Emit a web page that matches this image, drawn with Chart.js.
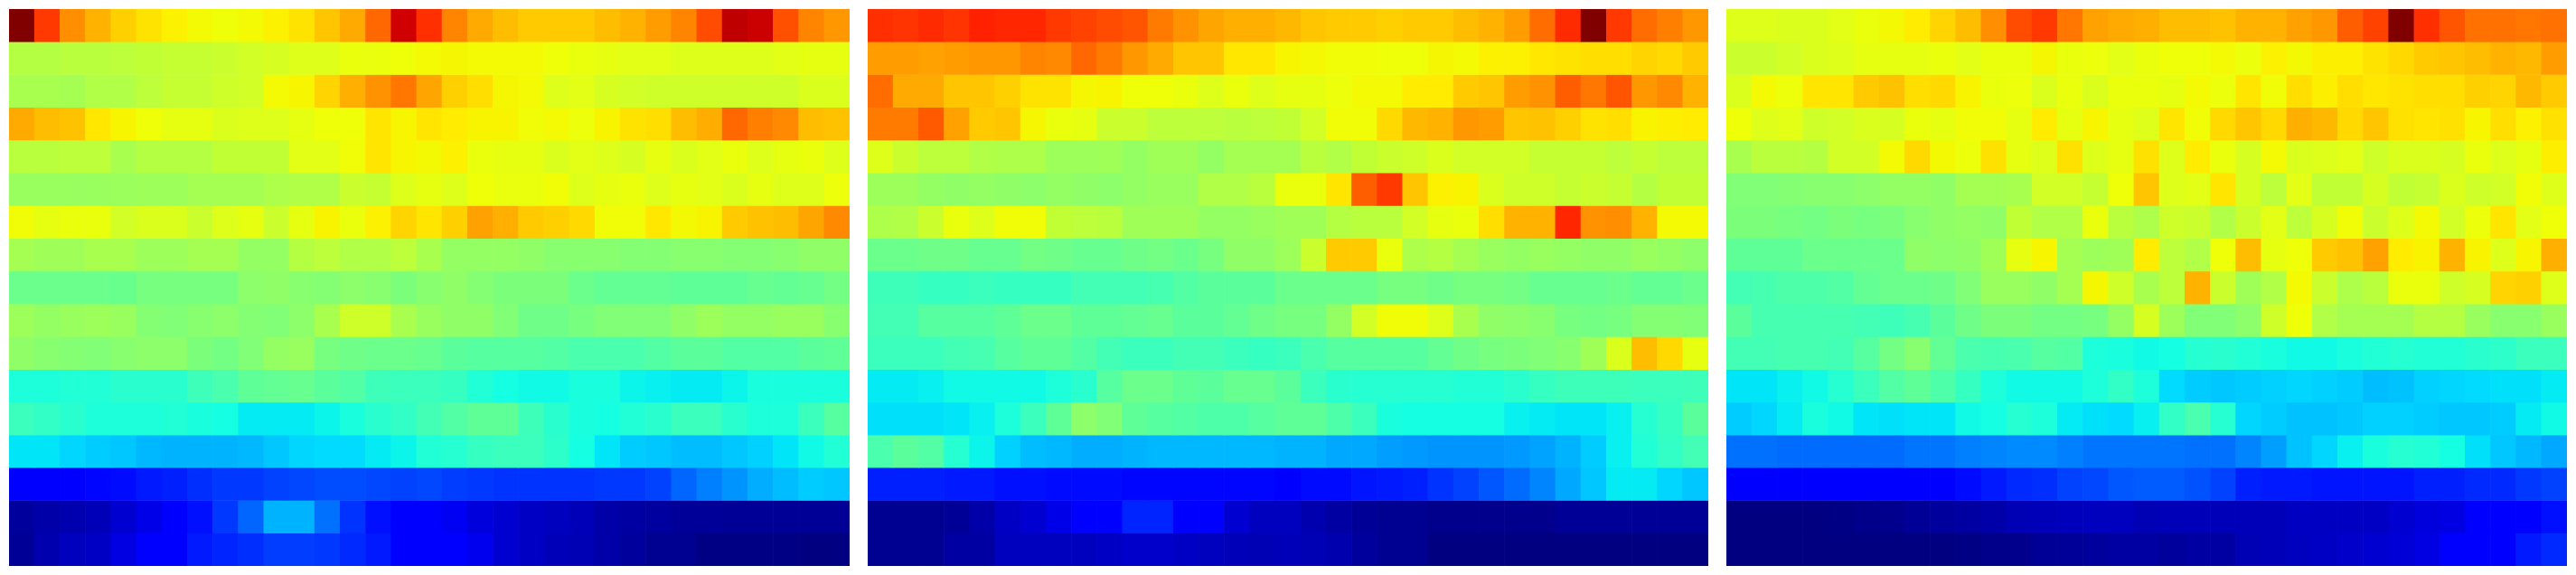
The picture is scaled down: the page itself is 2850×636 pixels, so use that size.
<!DOCTYPE html>
<html>
<head>
<meta charset="utf-8">
<title>Heatmap panels</title>
<script src="https://cdn.jsdelivr.net/npm/chart.js@4"></script>
<style>
html,body{margin:0;padding:0;background:#fff;width:2850px;height:636px;overflow:hidden}
.p{position:absolute;top:10px;width:930px;height:616px}
canvas{display:block}
</style>
</head>
<body>
<div class="p" style="left:10px"><canvas id="a"></canvas></div>
<div class="p" style="left:960px"><canvas id="b"></canvas></div>
<div class="p" style="left:1910px"><canvas id="c"></canvas></div>
<script>
const panelA = [
[1,.85,.76,.72,.69,.67,.655,.645,.64,.645,.655,.67,.70,.73,.80,.93,.86,.77,.73,.71,.695,.695,.695,.71,.72,.745,.77,.83,.945,.935,.825,.77,.75],
[.57,.57,.575,.575,.58,.585,.59,.59,.595,.605,.61,.62,.62,.635,.635,.64,.645,.648,.645,.645,.645,.64,.635,.63,.625,.625,.62,.62,.62,.62,.625,.63,.63],
[.555,.555,.55,.565,.565,.58,.59,.59,.60,.605,.645,.65,.685,.725,.755,.785,.735,.69,.675,.648,.645,.62,.625,.61,.605,.60,.60,.60,.60,.60,.60,.615,.615],
[.73,.71,.705,.665,.65,.64,.63,.63,.615,.62,.62,.63,.64,.64,.668,.65,.668,.66,.652,.652,.642,.645,.638,.652,.67,.675,.71,.727,.80,.775,.765,.71,.705],
[.575,.575,.58,.58,.555,.57,.57,.57,.585,.585,.585,.625,.625,.642,.668,.65,.646,.655,.635,.63,.63,.615,.625,.62,.61,.63,.615,.625,.635,.62,.63,.635,.62],
[.535,.535,.535,.535,.538,.54,.54,.55,.55,.55,.56,.565,.565,.595,.59,.62,.63,.62,.64,.633,.635,.642,.62,.63,.635,.62,.63,.625,.615,.63,.62,.62,.638],
[.642,.63,.635,.635,.605,.615,.615,.595,.62,.63,.595,.63,.652,.635,.655,.685,.668,.69,.74,.725,.695,.69,.68,.642,.642,.665,.646,.652,.695,.705,.71,.735,.765],
[.55,.543,.543,.555,.555,.54,.54,.55,.55,.53,.53,.57,.58,.565,.565,.58,.555,.53,.53,.53,.525,.515,.515,.515,.51,.51,.515,.515,.51,.51,.515,.525,.525],
[.48,.48,.48,.48,.478,.495,.495,.495,.495,.52,.525,.515,.51,.52,.515,.50,.515,.525,.51,.50,.50,.50,.48,.47,.47,.47,.465,.465,.465,.475,.47,.475,.49],
[.54,.53,.535,.54,.535,.51,.505,.515,.52,.51,.505,.52,.555,.60,.60,.555,.535,.525,.525,.505,.485,.485,.495,.505,.505,.505,.525,.54,.53,.53,.535,.535,.515],
[.525,.515,.51,.505,.515,.52,.52,.50,.49,.505,.53,.535,.495,.485,.48,.48,.475,.46,.455,.455,.455,.45,.44,.44,.44,.45,.46,.46,.45,.45,.45,.46,.465],
[.385,.385,.39,.39,.40,.40,.40,.425,.44,.465,.47,.475,.46,.45,.425,.42,.42,.415,.39,.375,.37,.37,.38,.38,.365,.36,.355,.355,.365,.38,.38,.38,.38],
[.42,.41,.40,.385,.385,.385,.39,.38,.375,.355,.355,.355,.365,.38,.40,.41,.43,.45,.465,.465,.425,.40,.38,.375,.39,.40,.42,.42,.40,.385,.385,.42,.455],
[.35,.35,.335,.325,.32,.305,.30,.30,.30,.305,.32,.335,.34,.34,.355,.365,.39,.395,.415,.42,.42,.405,.375,.35,.325,.32,.31,.31,.32,.33,.35,.37,.39],
[.11,.11,.115,.13,.135,.15,.155,.17,.18,.18,.19,.195,.20,.20,.195,.19,.195,.185,.18,.175,.175,.175,.175,.18,.18,.19,.225,.25,.27,.295,.31,.325,.32],
[.025,.035,.04,.05,.07,.09,.11,.14,.18,.225,.30,.30,.235,.175,.14,.11,.11,.10,.08,.07,.06,.055,.05,.035,.03,.027,.022,.022,.02,.02,.02,.02,.02],
[.02,.04,.055,.06,.085,.11,.11,.15,.16,.17,.185,.185,.18,.165,.15,.125,.11,.11,.095,.07,.06,.05,.045,.035,.025,.015,.015,.005,.005,.005,.005,0,0]
];
const panelB = [
[.86,.855,.865,.855,.875,.87,.87,.85,.84,.83,.82,.78,.755,.735,.725,.725,.715,.70,.695,.695,.69,.695,.695,.71,.72,.745,.795,.865,1,.85,.795,.775,.75],
[.745,.745,.74,.745,.75,.75,.77,.765,.80,.78,.75,.73,.70,.70,.665,.665,.65,.647,.642,.642,.64,.64,.648,.645,.655,.655,.665,.67,.675,.675,.685,.68,.695],
[.795,.73,.73,.70,.70,.69,.67,.67,.648,.652,.64,.64,.635,.62,.635,.62,.63,.63,.638,.645,.645,.66,.66,.695,.70,.745,.755,.81,.785,.82,.75,.765,.72],
[.78,.78,.815,.74,.695,.70,.648,.635,.63,.595,.595,.58,.58,.58,.575,.58,.585,.605,.642,.642,.68,.715,.72,.75,.745,.70,.705,.69,.67,.675,.652,.656,.66],
[.62,.595,.58,.58,.565,.56,.56,.54,.54,.545,.53,.545,.545,.53,.55,.55,.55,.575,.565,.585,.595,.60,.615,.605,.605,.605,.59,.59,.59,.58,.59,.58,.58],
[.54,.54,.53,.525,.53,.525,.52,.53,.525,.52,.53,.535,.535,.565,.565,.575,.635,.635,.668,.81,.85,.70,.655,.652,.615,.60,.60,.59,.595,.59,.57,.585,.585],
[.56,.565,.595,.635,.62,.642,.642,.585,.58,.575,.545,.545,.545,.53,.53,.535,.545,.545,.57,.575,.575,.605,.63,.635,.675,.72,.72,.87,.755,.76,.72,.645,.645],
[.48,.48,.485,.485,.475,.475,.49,.485,.475,.475,.485,.49,.48,.495,.525,.525,.54,.595,.695,.695,.635,.56,.57,.55,.535,.53,.535,.53,.525,.525,.535,.53,.52],
[.425,.425,.415,.415,.42,.415,.415,.415,.43,.43,.43,.435,.45,.46,.46,.46,.48,.48,.48,.48,.495,.495,.485,.495,.495,.49,.475,.475,.475,.48,.47,.47,.48],
[.43,.43,.455,.455,.455,.465,.48,.48,.465,.465,.47,.475,.46,.46,.47,.485,.495,.495,.53,.605,.642,.642,.62,.555,.525,.52,.515,.495,.49,.495,.51,.51,.505],
[.42,.42,.42,.43,.435,.455,.465,.465,.45,.43,.42,.42,.43,.43,.42,.415,.42,.44,.455,.455,.455,.455,.47,.485,.495,.50,.505,.515,.545,.615,.71,.68,.63],
[.355,.355,.36,.37,.37,.37,.37,.385,.40,.455,.48,.48,.465,.46,.475,.475,.46,.42,.40,.395,.395,.395,.395,.39,.39,.40,.415,.425,.425,.425,.42,.42,.425],
[.345,.345,.345,.35,.36,.385,.42,.465,.52,.505,.465,.455,.45,.445,.445,.455,.465,.465,.445,.42,.38,.375,.375,.375,.375,.36,.355,.35,.35,.36,.395,.415,.46],
[.44,.46,.45,.395,.365,.33,.31,.305,.295,.295,.30,.305,.305,.305,.305,.305,.30,.30,.29,.29,.28,.275,.27,.27,.27,.275,.285,.30,.325,.36,.39,.41,.43],
[.155,.155,.155,.15,.15,.14,.14,.135,.135,.135,.13,.13,.13,.13,.13,.13,.125,.135,.135,.145,.15,.155,.175,.19,.21,.23,.255,.29,.32,.355,.355,.335,.32],
[.015,.015,.015,.02,.035,.06,.07,.09,.11,.125,.16,.16,.125,.11,.07,.055,.055,.04,.03,.02,.015,.015,.012,.012,.012,.012,.012,.02,.02,.02,.02,.02,.02],
[.015,.015,.015,.03,.03,.055,.055,.055,.055,.06,.065,.065,.06,.055,.05,.045,.05,.045,.04,.025,.015,.015,0,0,0,0,0,0,0,0,0,0,0]
];
const panelC = [
[.62,.62,.615,.615,.625,.635,.647,.66,.685,.71,.76,.83,.85,.785,.74,.73,.725,.71,.71,.705,.72,.72,.74,.75,.81,.84,1,.86,.82,.79,.79,.785,.79],
[.595,.595,.605,.615,.62,.63,.63,.63,.635,.625,.635,.635,.648,.635,.638,.625,.635,.64,.64,.645,.637,.655,.646,.656,.656,.67,.68,.695,.70,.71,.72,.715,.745],
[.615,.645,.638,.668,.668,.695,.705,.675,.68,.652,.635,.638,.615,.635,.615,.635,.635,.63,.645,.637,.668,.642,.675,.656,.675,.665,.67,.675,.675,.69,.685,.715,.695],
[.64,.62,.625,.60,.605,.615,.61,.635,.63,.642,.642,.63,.66,.63,.65,.63,.62,.668,.642,.68,.70,.68,.725,.715,.68,.70,.672,.668,.672,.65,.675,.655,.672],
[.555,.575,.575,.57,.605,.605,.645,.68,.646,.637,.672,.63,.62,.672,.62,.63,.672,.62,.66,.635,.61,.645,.615,.62,.625,.60,.615,.615,.61,.635,.62,.63,.658],
[.505,.505,.51,.515,.515,.52,.53,.53,.525,.55,.55,.555,.605,.605,.59,.64,.70,.62,.625,.668,.61,.58,.625,.585,.585,.61,.585,.59,.615,.60,.605,.642,.62],
[.50,.50,.495,.49,.50,.495,.50,.515,.525,.53,.525,.585,.565,.565,.635,.575,.56,.60,.595,.565,.595,.625,.58,.61,.642,.595,.62,.645,.605,.637,.668,.625,.64],
[.465,.465,.465,.48,.48,.48,.48,.525,.52,.525,.545,.63,.65,.55,.54,.545,.66,.58,.565,.64,.71,.63,.64,.695,.705,.74,.66,.652,.72,.652,.62,.65,.725],
[.43,.435,.445,.445,.45,.47,.48,.48,.485,.505,.535,.535,.525,.55,.648,.60,.555,.58,.72,.595,.545,.565,.645,.595,.56,.575,.635,.635,.60,.61,.685,.69,.62],
[.46,.435,.435,.435,.435,.43,.425,.435,.46,.485,.50,.50,.49,.49,.495,.53,.61,.54,.505,.505,.52,.60,.64,.565,.55,.55,.55,.57,.57,.535,.515,.515,.535],
[.43,.43,.435,.435,.43,.455,.49,.515,.47,.44,.435,.44,.455,.45,.385,.38,.37,.375,.395,.40,.39,.38,.37,.37,.38,.39,.395,.39,.39,.40,.405,.42,.42],
[.35,.35,.36,.37,.395,.42,.45,.465,.445,.415,.385,.37,.37,.37,.385,.41,.385,.34,.325,.32,.325,.33,.335,.33,.325,.31,.315,.33,.335,.34,.345,.345,.355],
[.325,.335,.355,.38,.37,.35,.345,.35,.35,.37,.375,.395,.385,.355,.345,.34,.36,.41,.44,.395,.335,.325,.315,.315,.32,.33,.33,.325,.32,.32,.325,.355,.37],
[.235,.235,.23,.23,.23,.23,.23,.24,.24,.25,.255,.26,.26,.25,.24,.24,.24,.24,.235,.235,.255,.28,.315,.335,.36,.38,.395,.39,.375,.345,.32,.305,.29],
[.11,.11,.11,.11,.11,.11,.11,.11,.125,.135,.15,.165,.17,.19,.195,.21,.215,.215,.205,.19,.155,.15,.15,.145,.145,.145,.145,.155,.155,.165,.165,.18,.19],
[0,0,0,0,.005,.01,.012,.02,.025,.03,.035,.045,.05,.052,.055,.055,.045,.05,.05,.05,.05,.05,.057,.057,.057,.06,.07,.08,.085,.11,.11,.125,.14],
[0,0,0,0,0,0,0,0,0,.005,.01,.012,.02,.022,.025,.03,.03,.025,.03,.03,.045,.05,.055,.06,.065,.07,.075,.085,.11,.11,.125,.15,.165]
];
const JET_R = [[0,0],[.35,0],[.66,1],[.89,1],[1,.5]];
const JET_G = [[0,0],[.125,0],[.375,1],[.64,1],[.91,0],[1,0]];
const JET_B = [[0,.5],[.11,1],[.34,1],[.65,0],[1,0]];

function ramp(stops, v) {
  for (let i = 1; i < stops.length; i++) {
    if (v <= stops[i][0]) {
      const [x0, y0] = stops[i - 1], [x1, y1] = stops[i];
      return y0 + (y1 - y0) * (v - x0) / (x1 - x0);
    }
  }
  return stops[stops.length - 1][1];
}
function jet(v) {
  const c = s => Math.round(255 * ramp(s, v));
  return `rgb(${c(JET_R)},${c(JET_G)},${c(JET_B)})`;
}
function draw(id, grid) {
  const columns = grid[0].map((_, i) => i + 1);
  new Chart(document.getElementById(id), {
    type: 'bar',
    data: {
      labels: columns,
      datasets: grid.map((row, r) => ({
        data: row.map(() => [r, r + 1]),
        backgroundColor: row.map(jet),
        borderWidth: 0,
        barPercentage: 1,
        categoryPercentage: 1,
        grouped: false
      }))
    },
    options: {
      responsive: false,
      animation: false,
      events: [],
      layout: { padding: 0 },
      plugins: { legend: { display: false }, tooltip: { enabled: false }, title: { display: false } },
      scales: {
        x: { type: 'category', display: false, offset: true, grid: { display: false } },
        y: { type: 'linear', display: false, min: 0, max: grid.length, reverse: true, grid: { display: false } }
      }
    }
  });
}
for (const [id, g] of [['a', panelA], ['b', panelB], ['c', panelC]]) {
  const cv = document.getElementById(id);
  cv.width = 930; cv.height = 616;
  cv.style.width = '930px'; cv.style.height = '616px';
  draw(id, g);
}
</script>
</body>
</html>
